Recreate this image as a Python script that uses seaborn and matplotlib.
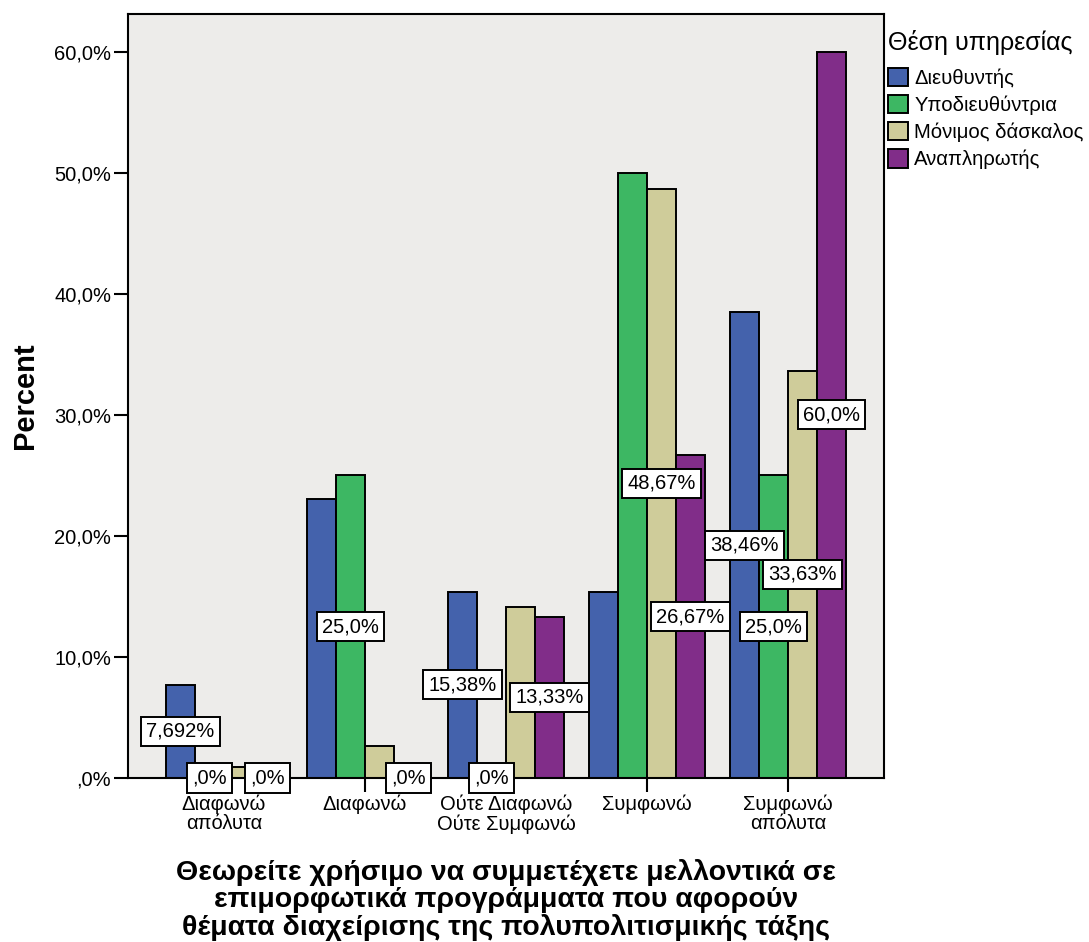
import numpy as np
import pandas as pd
import matplotlib
matplotlib.use("Agg")
import matplotlib.pyplot as plt
import matplotlib.patches as mpatches
from matplotlib.ticker import FixedLocator, FuncFormatter
import seaborn as sns

# Answer categories (x axis) and staff positions (hue)
categories = ["Διαφωνώ\nαπόλυτα", "Διαφωνώ", "Ούτε Διαφωνώ\nΟύτε Συμφωνώ",
              "Συμφωνώ", "Συμφωνώ\nαπόλυτα"]
roles = ["Διευθυντής", "Υποδιευθύντρια", "Μόνιμος δάσκαλος", "Αναπληρωτής"]

# Percent of each position giving each answer
director = [7.692, 23.08, 15.38, 15.38, 38.46]
deputy = [0.0, 25.0, 0.0, 50.0, 25.0]
permanent = [0.885, 2.655, 14.16, 48.67, 33.63]
substitute = [0.0, 0.0, 13.33, 26.67, 60.0]

# Which bars carry a value label
director_lbl = [True, False, True, False, True]
deputy_lbl = [True, True, True, False, True]
permanent_lbl = [False, False, False, True, True]
substitute_lbl = [True, True, True, True, True]

y_ticks = [0, 10, 20, 30, 40, 50, 60]

x_title = ("Θεωρείτε χρήσιμο να συμμετέχετε μελλοντικά σε\n"
           "επιμορφωτικά προγράμματα που αφορούν\n"
           "θέματα διαχείρισης της πολυπολιτισμικής τάξης")
legend_title = "Θέση υπηρεσίας"

series = [director, deputy, permanent, substitute]
label_flags = [director_lbl, deputy_lbl, permanent_lbl, substitute_lbl]
colors = ["#4462AC", "#3DB763", "#CFCC9A", "#812D89"]

df = pd.DataFrame({
    "answer": categories * len(roles),
    "pct": [v for s in series for v in s],
    "role": [r for r in roles for _ in categories],
})


def pct_text(v):
    s = f"{v:.4g}"
    if "." not in s:
        s += ".0"
    if s.startswith("0."):
        s = s[1:]
    return s.replace(".", ",") + "%"


sns.set_style("white")
plt.rcParams["font.family"] = ["Liberation Sans", "DejaVu Sans"]
plt.rcParams["text.color"] = "black"
plt.rcParams["axes.labelcolor"] = "black"
plt.rcParams["xtick.color"] = "black"
plt.rcParams["ytick.color"] = "black"

fig = plt.figure(figsize=(10.89, 9.42), dpi=100)
ax = fig.add_axes([0.1175, 0.1741, 0.6942, 0.8108])
ax.set_facecolor("#EDECEA")

sns.barplot(data=df, x="answer", y="pct", hue="role", order=categories,
            hue_order=roles, palette=colors, saturation=1, width=0.82,
            edgecolor="black", linewidth=1.4, ax=ax, legend=False, zorder=2)

ax.set_xlim(-0.68, len(categories) - 1 + 0.68)
ax.set_ylim(0, 63.1)
ax.yaxis.set_major_locator(FixedLocator(y_ticks))
ax.yaxis.set_major_formatter(FuncFormatter(lambda v, p: pct_text(v)))

for side in ["left", "right", "top", "bottom"]:
    ax.spines[side].set_visible(True)
    ax.spines[side].set_color("black")
    ax.spines[side].set_linewidth(1.5)

ax.tick_params(axis="both", which="major", direction="out", length=10,
               width=1.5, color="black", labelsize=14.5, labelcolor="black",
               left=True, bottom=True, pad=2)
for t in ax.get_xticklabels():
    t.set_linespacing(1.0)

ax.set_xlabel(x_title, fontsize=20.5, fontweight="bold", labelpad=18,
              linespacing=1.06, color="black")
ax.set_ylabel("Percent", fontsize=21, fontweight="bold", labelpad=11,
              color="black")

# Value labels at the middle of each bar
for container, vals, flags in zip(ax.containers, series, label_flags):
    for bar, v, show in zip(container.patches, vals, flags):
        if not show:
            continue
        cx = bar.get_x() + bar.get_width() / 2
        ax.text(cx, v / 2, pct_text(v), ha="center", va="center",
                fontsize=14.5, zorder=5, clip_on=False, color="black",
                bbox=dict(boxstyle="square,pad=0.25", fc="white",
                          ec="black", lw=1.4))

handles = [mpatches.Patch(facecolor=c, edgecolor="black", linewidth=1.4, label=r)
           for c, r in zip(colors, roles)]
leg = ax.legend(handles=handles, title=legend_title, loc="upper left",
                bbox_to_anchor=(1.0, 0.985), frameon=False, fontsize=14.6,
                title_fontsize=18, handlelength=1.0, handleheight=1.0,
                handletextpad=0.3, labelspacing=0.35, borderaxespad=0.2,
                borderpad=0.0, alignment="left")
leg.get_title().set_color("black")
for t in leg.get_texts():
    t.set_color("black")
# a little more room between the legend title and its entries
leg._legend_box.sep += 4.5

fig.savefig("out.png", dpi=100)
